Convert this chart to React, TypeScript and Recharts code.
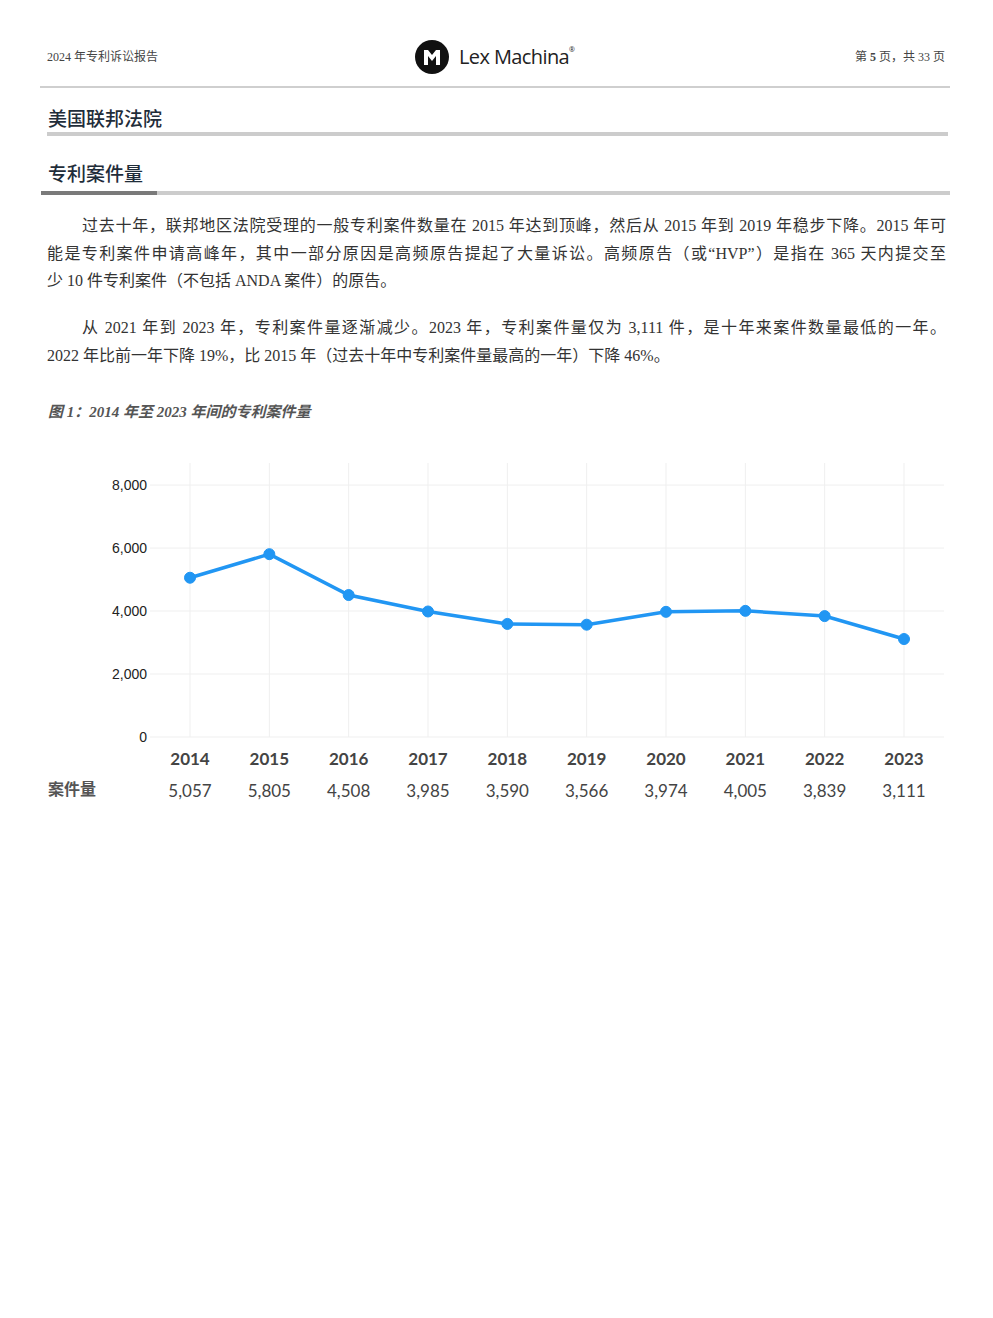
import { LineChart, Line, XAxis, YAxis, CartesianGrid } from 'recharts'

const years = ['2014', '2015', '2016', '2017', '2018', '2019', '2020', '2021', '2022', '2023']
const caseCounts = [5057, 5805, 4508, 3985, 3590, 3566, 3974, 4005, 3839, 3111]
const yTicks = [0, 2000, 4000, 6000, 8000]

const chartData = years.map((year, i) => ({ year, count: caseCounts[i] }))

const serif = '"Liberation Serif", "Noto Sans CJK SC", serif'
const cjk = '"Noto Sans CJK SC", sans-serif'

const para1 = [
  '过去十年，联邦地区法院受理的一般专利案件数量在 2015 年达到顶峰，然后从 2015 年到 2019 年稳步下降。2015 年可',
  '能是专利案件申请高峰年，其中一部分原因是高频原告提起了大量诉讼。高频原告（或“HVP”）是指在 365 天内提交至',
  '少 10 件专利案件（不包括 ANDA 案件）的原告。',
]
const para2 = [
  '从 2021 年到 2023 年，专利案件量逐渐减少。2023 年，专利案件量仅为 3,111 件，是十年来案件数量最低的一年。',
  '2022 年比前一年下降 19%，比 2015 年（过去十年中专利案件量最高的一年）下降 46%。',
]

function YearTick(props: any) {
  const { x, y, payload } = props
  const idx = years.indexOf(payload.value)
  const value = idx >= 0 ? caseCounts[idx].toLocaleString('en-US') : ''
  return (
    <g>
      <text x={x} y={y + 20} textAnchor="middle" fontFamily="Lato, sans-serif" fontWeight={700} fontSize={17} fill="#444">
        {payload.value}
      </text>
      <text x={x} y={y + 52} textAnchor="middle" fontFamily="Lato, sans-serif" fontSize={17} fill="#444">
        {value}
      </text>
    </g>
  )
}

function ParaLines({ lines, top, indentFirst }: { lines: string[]; top: number; indentFirst: boolean }) {
  return (
    <>
      {lines.map((line, i) => {
        const isLast = i === lines.length - 1
        return (
          <div
            key={i}
            style={{
              position: 'absolute',
              left: 47,
              top: top + i * 27.5 - 13,
              width: 899,
              height: 26,
              lineHeight: '26px',
              fontFamily: serif,
              fontSize: 16,
              color: '#333',
              textIndent: i === 0 && indentFirst ? 35 : 0,
              textAlign: 'justify',
              textAlignLast: isLast ? 'left' : 'justify',
              whiteSpace: 'nowrap',
            }}
          >
            {line}
          </div>
        )
      })}
    </>
  )
}

export default function App() {
  return (
    <div style={{ position: 'absolute', left: 0, top: 0, width: 993, height: 1318, background: '#fff' }}>
      {/* header */}
      <div style={{ position: 'absolute', left: 47, top: 49, fontFamily: serif, fontSize: 12, color: '#444', lineHeight: '16px' }}>
        2024 年专利诉讼报告
      </div>
      <div style={{ position: 'absolute', right: 48, top: 49, fontFamily: serif, fontSize: 12, color: '#444', lineHeight: '16px' }}>
        第 <b>5</b> 页，共 33 页
      </div>
      <div style={{ position: 'absolute', left: 415, top: 40, width: 34, height: 34, borderRadius: 17, background: '#111' }}>
        <svg width={34} height={34}>
          <path d="M9 10 L9 25 L13 25 L13 16 L17 21 L21 16 L21 25 L25 25 L25 10 L21 10 L17 15 L13 10 Z" fill="#fff" />
        </svg>
      </div>
      <div style={{ position: 'absolute', left: 459, top: 43, fontFamily: '"Open Sans", sans-serif', fontSize: 20, color: '#222', lineHeight: '28px', letterSpacing: -0.6 }}>
        Lex Machina<sup style={{ fontSize: 7, verticalAlign: 'top', lineHeight: '14px' }}>®</sup>
      </div>
      <div style={{ position: 'absolute', left: 40, top: 86, width: 910, height: 2, background: '#cfcfcf' }} />

      {/* section titles */}
      <div style={{ position: 'absolute', left: 48, top: 105, fontFamily: cjk, fontSize: 19, fontWeight: 500, color: '#1f2d3a', lineHeight: '26px' }}>
        美国联邦法院
      </div>
      <div style={{ position: 'absolute', left: 47, top: 132, width: 901, height: 4, background: '#cccccc' }} />
      <div style={{ position: 'absolute', left: 48, top: 160, fontFamily: cjk, fontSize: 19, fontWeight: 500, color: '#1f2d3a', lineHeight: '26px' }}>
        专利案件量
      </div>
      <div style={{ position: 'absolute', left: 41, top: 191, width: 909, height: 4, background: '#cccccc' }} />
      <div style={{ position: 'absolute', left: 41, top: 191, width: 116, height: 4, background: '#7a7a7a' }} />

      <ParaLines lines={para1} top={226} indentFirst />
      <ParaLines lines={para2} top={328} indentFirst />

      <div style={{ position: 'absolute', left: 48, top: 402, fontFamily: serif, fontSize: 15, fontWeight: 700, fontStyle: 'italic', color: '#555', lineHeight: '20px' }}>
        图 1：2014 年至 2023 年间的专利案件量
      </div>

      {/* chart */}
      <div style={{ position: 'absolute', left: 40, top: 455 }}>
        <LineChart width={910} height={360} data={chartData} margin={{ top: 8, right: 6, bottom: 0, left: 0 }}>
          <CartesianGrid stroke="#efefef" strokeWidth={1} syncWithTicks />
          <XAxis
            dataKey="year"
            axisLine={false}
            tickLine={false}
            padding={{ left: 40, right: 40 }}
            height={78}
            interval={0}
            tick={<YearTick />}
          />
          <YAxis
            width={110}
            domain={[0, 8700]}
            ticks={yTicks}
            axisLine={false}
            tickLine={false}
            tickSize={3}
            tickMargin={0}
            tickFormatter={(v: number) => v.toLocaleString('en-US')}
            tick={{ fontFamily: '"Liberation Sans", Arial, sans-serif', fontSize: 14, fill: '#222' }}
          />
          <Line
            type="linear"
            dataKey="count"
            stroke="#2196f3"
            strokeWidth={3.5}
            dot={{ r: 5.5, fill: '#2196f3', stroke: '#2196f3', strokeWidth: 1 }}
            isAnimationActive={false}
          />
        </LineChart>
      </div>
      <div style={{ position: 'absolute', left: 48, top: 777, fontFamily: cjk, fontSize: 16, fontWeight: 700, color: '#555', lineHeight: '22px' }}>
        案件量
      </div>
    </div>
  )
}
